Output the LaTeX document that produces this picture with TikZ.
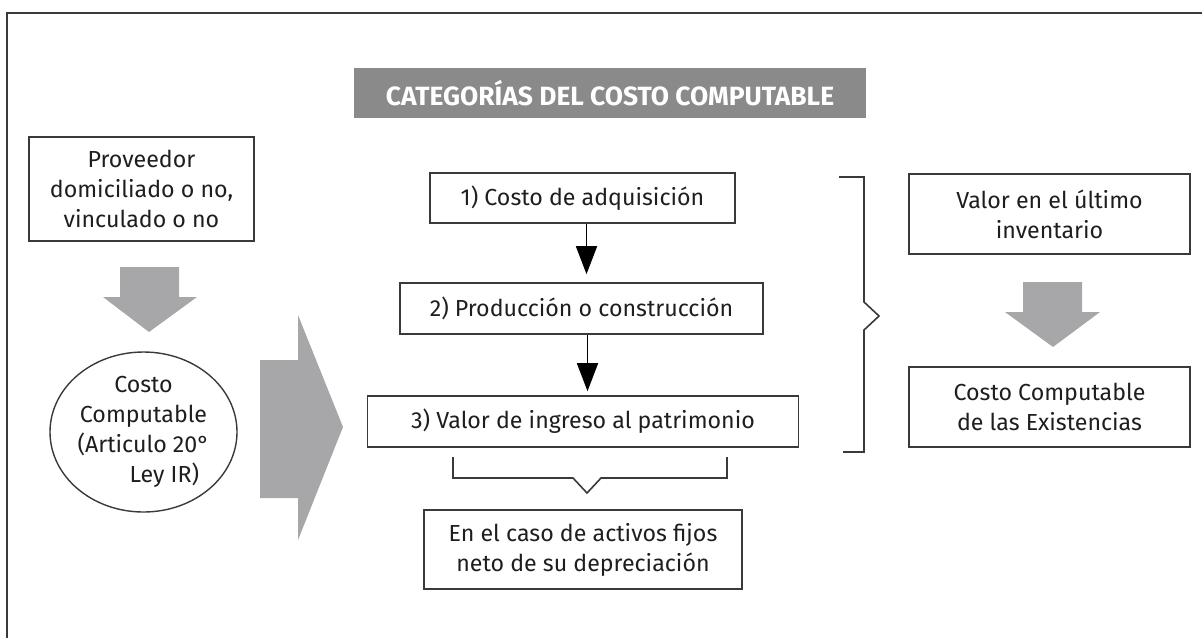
\documentclass[tikz,border=0pt]{standalone}
\usepackage{fontspec}
\setmainfont{Fira Sans}
\usepackage{xcolor}
\usetikzlibrary{shapes.geometric,arrows.meta,positioning}

\definecolor{linea}{HTML}{3A3A3A}
\definecolor{texto}{HTML}{1E1E1E}
\definecolor{grisbanda}{HTML}{8A8A8A}
\definecolor{grisflecha}{HTML}{A7A7A9}

\begin{document}
\begin{tikzpicture}[
    x=0.5pt, y=-0.5pt,
    every node/.style={font=\fontsize{11.6}{15}\selectfont, text=texto},
    caja/.style={rectangle, draw=linea, line width=0.8pt, align=center, inner sep=0pt},
    elipse/.style={ellipse, draw=linea, line width=0.7pt, align=center, inner sep=0pt,
        minimum width=93.5pt, minimum height=80pt},
    banda/.style={rectangle, fill=grisbanda, text=white, inner sep=0pt,
        minimum width=256pt, minimum height=25pt, font=\fontsize{13.2}{15}\selectfont\bfseries},
    flecha/.style={-{Triangle[width=10.5pt,length=14pt]}, line width=0.8pt, draw=black},
    bloque/.style={fill=grisflecha},
    llave/.style={draw=linea, line width=0.8pt}
]
\useasboundingbox (0,0) rectangle (1202,638);

% marco
\draw[linea, line width=1.1pt] (7,638) -- (7,13) -- (1202,13);

% titulo
\node[banda] (titulo) at (610,93) {CATEGORÍAS DEL COSTO COMPUTABLE};

% columna izquierda
\node[caja, minimum width=112.5pt, minimum height=52pt] (prov) at (141.5,189)
    {Proveedor\\domiciliado o no,\\vinculado o no};
\node[elipse] (costo) at (143.5,432)
    {Costo\\Computable\\(Articulo 20°\\\hspace*{1.8em}Ley IR)};
\fill[bloque] (120,267) -- (179,267) -- (179,297) -- (197,297) -- (149,332)
    -- (103,297) -- (120,297) -- cycle;
\fill[bloque] (260,360) -- (298,360) -- (298,315) -- (343,427) -- (298,540)
    -- (298,498) -- (260,498) -- cycle;

% columna central
\node[caja, minimum width=152.5pt, minimum height=25pt] (c1) at (582.5,198)
    {1) Costo de adquisición};
\node[caja, minimum width=181.5pt, minimum height=25.5pt] (c2) at (581.5,308.5)
    {2) Producción o construcción};
\node[caja, minimum width=215.5pt, minimum height=25.5pt] (c3) at (583,421.5)
    {3) Valor de ingreso al patrimonio};
\node[caja, minimum width=159pt, minimum height=39.5pt] (activos) at (583,549.5)
    {En el caso de activos fijos\\neto de su depreciación};

\draw[flecha, shorten >=4pt] ([xshift=2pt]c1.south) -- ([xshift=2pt]c1.south |- c2.north);
\draw[flecha, shorten >=2pt] ([xshift=3pt]c2.south) -- ([xshift=3pt]c2.south |- c3.north);

\draw[llave] (453,457) -- (453,478) -- (573,478) -- (587,493) -- (601,478)
    -- (727,478) -- (727,457);

% columna derecha
\draw[llave] (839,177) -- (864,177) -- (864,302) -- (879,316) -- (864,330)
    -- (864,452) -- (843,452);

\node[caja, minimum width=140.5pt, minimum height=40pt] (ultimo) at (1049.5,214)
    {Valor en el último\\inventario};
\node[caja, minimum width=140.5pt, minimum height=40pt] (exist) at (1049.5,407)
    {Costo Computable\\de las Existencias};
\fill[bloque] (1023,282) -- (1082,282) -- (1082,312) -- (1100,312) -- (1053,347)
    -- (1005,312) -- (1023,312) -- cycle;
\end{tikzpicture}
\end{document}
